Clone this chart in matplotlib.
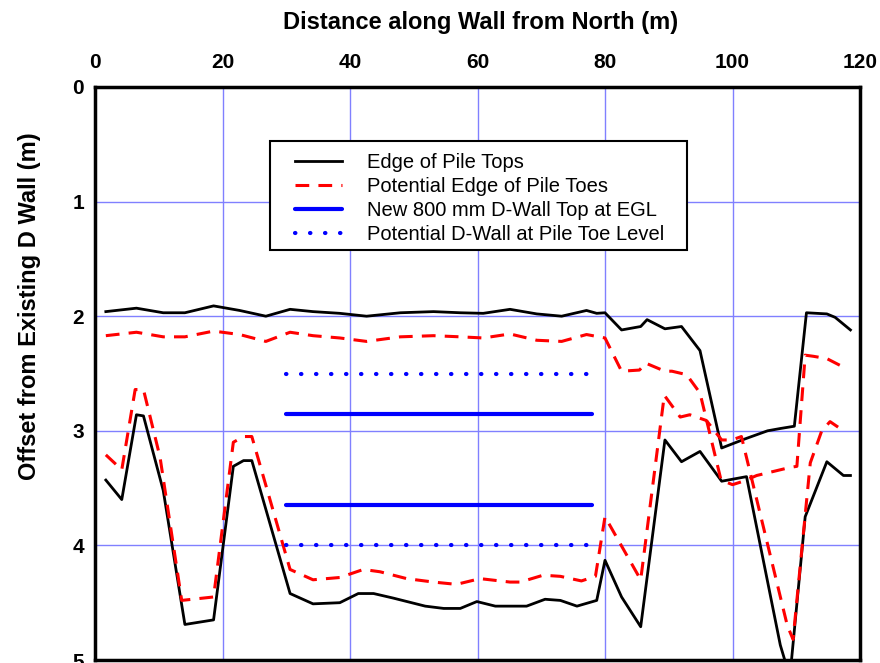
import matplotlib
matplotlib.use("Agg")
import matplotlib.pyplot as plt
from matplotlib.patches import Rectangle

plt.rcParams['font.family'] = ['Liberation Sans', 'DejaVu Sans']

# Edge of pile tops (near and far edge)
top_x = [1.7, 6.5, 10.7, 14.1, 18.6, 22.7, 26.8, 30.6, 34.2, 38.4, 42.6, 47.9, 53.1, 57.3,
         60.9, 65.1, 69.3, 73.2, 77.1, 78.7, 80.0, 82.6, 85.6, 86.6, 89.4, 92.0, 94.9, 98.3,
         102.0, 105.5, 107.5, 109.7, 111.6, 114.8, 116.1, 118.5]
top_y = [1.96, 1.93, 1.97, 1.97, 1.91, 1.95, 2.00, 1.94, 1.96, 1.975, 2.00, 1.97, 1.96, 1.97,
         1.975, 1.94, 1.98, 2.00, 1.95, 1.975, 1.97, 2.12, 2.09, 2.03, 2.11, 2.09, 2.30, 3.15,
         3.07, 3.00, 2.98, 2.96, 1.97, 1.98, 2.01, 2.12]

bot_x = [1.7, 4.2, 6.5, 7.6, 10.7, 14.1, 18.6, 21.7, 23.3, 24.6, 30.6, 34.2, 38.4, 41.3, 43.7,
         46.8, 51.8, 54.7, 57.3, 59.9, 62.8, 67.7, 70.6, 73.0, 75.6, 78.7, 80.0, 82.6, 85.6,
         89.4, 92.0, 94.9, 98.3, 102.2, 107.5, 109.0, 111.4, 114.8, 117.4, 118.5]
bot_y = [3.43, 3.60, 2.86, 2.87, 3.52, 4.69, 4.65, 3.31, 3.26, 3.26, 4.42, 4.51, 4.50, 4.42, 4.42,
         4.46, 4.53, 4.55, 4.55, 4.49, 4.53, 4.53, 4.47, 4.48, 4.53, 4.48, 4.13, 4.45, 4.71,
         3.08, 3.27, 3.18, 3.44, 3.40, 4.87, 5.15, 3.75, 3.27, 3.39, 3.39]

# Potential edge of pile toes
toe_up_x = [1.7, 6.5, 10.7, 14.1, 18.6, 22.7, 26.8, 30.6, 34.2, 38.4, 42.6, 47.9, 53.1, 57.3,
            60.9, 65.1, 69.3, 73.2, 77.1, 80.0, 82.6, 85.4, 86.4, 89.4, 90.5, 92.8, 94.9, 98.2,
            100.0, 101.7, 103.8, 109.0, 110.1, 111.4, 112.7, 114.8, 116.9]
toe_up_y = [2.17, 2.14, 2.18, 2.18, 2.13, 2.16, 2.22, 2.14, 2.17, 2.19, 2.22, 2.18, 2.17, 2.18,
            2.19, 2.155, 2.21, 2.22, 2.16, 2.19, 2.48, 2.47, 2.41, 2.48, 2.48, 2.51, 2.67, 3.43,
            3.47, 3.44, 3.39, 3.32, 3.31, 2.34, 2.35, 2.37, 2.43]

toe_lo_x = [1.7, 4.2, 6.3, 7.6, 10.2, 13.6, 18.6, 21.7, 23.3, 24.6, 30.6, 34.2, 38.4, 42.1, 44.7,
            48.9, 53.1, 56.7, 60.4, 65.1, 66.7, 70.3, 73.0, 76.3, 78.5, 80.0, 85.6, 89.3, 91.8,
            93.3, 95.9, 98.3, 99.9, 101.4, 108.6, 109.5, 112.2, 114.0, 115.3, 117.4]
toe_lo_y = [3.21, 3.34, 2.64, 2.64, 3.23, 4.48, 4.45, 3.10, 3.05, 3.05, 4.21, 4.30, 4.28, 4.21, 4.23,
            4.29, 4.32, 4.34, 4.29, 4.32, 4.32, 4.26, 4.27, 4.31, 4.27, 3.75, 4.30, 2.69, 2.88,
            2.86, 2.91, 3.08, 3.08, 3.05, 4.70, 4.82, 3.28, 3.00, 2.92, 3.00]

# New D-wall
wall_x = [30, 78]
wall_top = [2.85, 3.65]
wall_toe = [2.5, 4.0]

x_ticks = [0, 20, 40, 60, 80, 100, 120]
y_ticks = [0, 1, 2, 3, 4, 5]

fig = plt.figure(figsize=(8.8, 6.63), dpi=100)
ax = fig.add_axes([95 / 880, 1 - 660 / 663, 765 / 880, 573 / 663])

ax.grid(True, color='#8080ff', linewidth=1)
ax.set_axisbelow(True)

ax.plot(top_x, top_y, color='black', lw=2, label='Edge of Pile Tops')
ax.plot(bot_x, bot_y, color='black', lw=2)
ax.plot(toe_up_x, toe_up_y, color='red', lw=2.2, dashes=(4.5, 3),
        label='Potential Edge of Pile Toes')
ax.plot(toe_lo_x, toe_lo_y, color='red', lw=2.2, dashes=(4.5, 3))

ax.plot(wall_x, [wall_top[0]] * 2, color='blue', lw=3, solid_capstyle='round',
        label='New 800 mm D-Wall Top at EGL')
ax.plot(wall_x, [wall_top[1]] * 2, color='blue', lw=3, solid_capstyle='round')
ax.plot(wall_x, [wall_toe[0]] * 2, color='blue', lw=3, dashes=(0.1, 3.5),
        dash_capstyle='round', label='Potential D-Wall at Pile Toe Level')
ax.plot(wall_x, [wall_toe[1]] * 2, color='blue', lw=3, dashes=(0.1, 3.5),
        dash_capstyle='round')

ax.set_xlim(0, 120)
ax.set_ylim(5, 0)
ax.set_xticks(x_ticks)
ax.set_yticks(y_ticks)
ax.xaxis.tick_top()
ax.tick_params(axis='x', length=0, pad=11, labelsize=15)
ax.tick_params(axis='y', length=0, pad=8, labelsize=15)
for lab in ax.get_xticklabels() + ax.get_yticklabels():
    lab.set_fontweight('bold')
for sp in ax.spines.values():
    sp.set_linewidth(2.5)

fig.text(481 / 880, 1 - 22 / 663, 'Distance along Wall from North (m)',
         ha='center', va='center', fontsize=17, fontweight='bold')
fig.text(30 / 880, 1 - 306 / 663, 'Offset from Existing D Wall (m)',
         ha='center', va='center', rotation=90, fontsize=17, fontweight='bold')

# legend box drawn by hand so the inner padding can differ per side
box = Rectangle((0.2288, 0.7155), 0.7739 - 0.2288, 0.9058 - 0.7155,
                transform=ax.transAxes, facecolor='white', edgecolor='black',
                linewidth=1.5, zorder=4)
ax.add_patch(box)
leg = ax.legend(loc='upper left', bbox_to_anchor=(0.2614, 0.8848), borderaxespad=0,
                borderpad=0, fontsize=14.5, frameon=False,
                handlelength=2.33, handletextpad=1.24, labelspacing=0.25)
leg.set_zorder(5)

fig.savefig('out.png', dpi=100)
